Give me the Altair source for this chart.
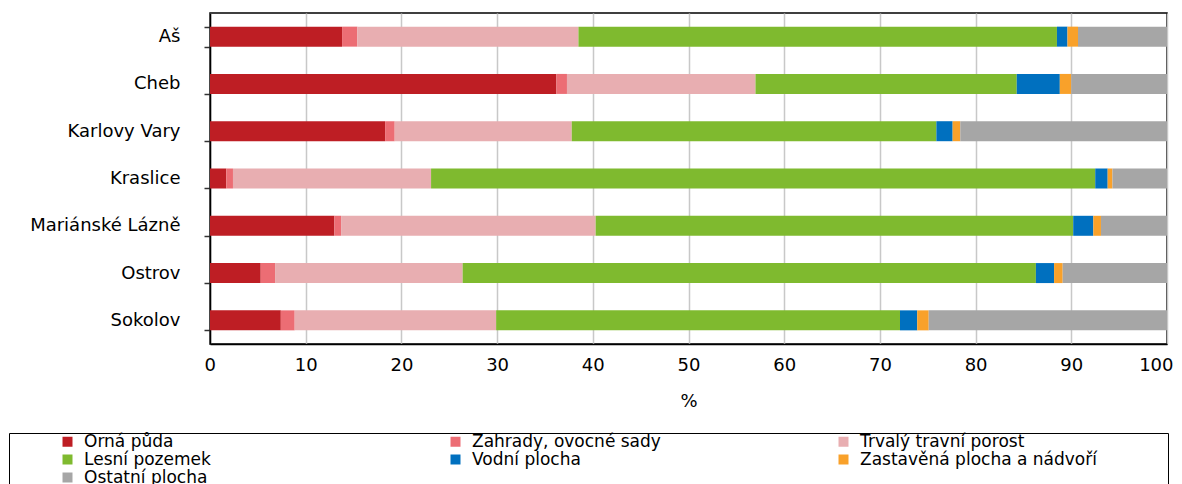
import altair as alt
import pandas as pd

towns = ["Aš", "Cheb", "Karlovy Vary", "Kraslice", "Mariánské Lázně", "Ostrov", "Sokolov"]
categories = ["Orná půda", "Zahrady, ovocné sady", "Trvalý travní porost", "Lesní pozemek",
              "Vodní plocha", "Zastavěná plocha a nádvoří", "Ostatní plocha"]
colors = ["#be1e24", "#ec6d74", "#e8aeb1", "#7fba2f", "#0070bf", "#f9a12a", "#a6a6a6"]

orna = [13.8, 36.2, 18.3, 1.7, 13.0, 5.3, 7.4]
zahrady = [1.6, 1.1, 1.0, 0.7, 0.7, 1.5, 1.45]
trvaly = [23.1, 19.7, 18.5, 20.7, 26.6, 19.6, 21.05]
lesni = [50.0, 27.3, 38.1, 69.4, 49.9, 59.9, 42.2]
vodni = [1.1, 4.5, 1.7, 1.3, 2.1, 1.9, 1.8]
zastavena = [1.1, 1.2, 0.8, 0.5, 0.8, 0.9, 1.2]
ostatni = [9.3, 10.0, 21.6, 5.7, 6.9, 10.9, 24.9]

series = [orna, zahrady, trvaly, lesni, vodni, zastavena, ostatni]
rows = []
for ci, (cat, vals) in enumerate(zip(categories, series)):
    for town, v in zip(towns, vals):
        rows.append({"town": town, "cat": cat, "order": ci, "value": v})
df = pd.DataFrame(rows)

FONT = "DejaVu Sans"

chart = alt.Chart(df).mark_bar(size=20).encode(
    y=alt.Y("town:N", sort=towns, title=None,
            scale=alt.Scale(paddingInner=0.58, paddingOuter=0.29),
            axis=alt.Axis(labelFontSize=18, labelFont=FONT, labelColor="black",
                          domainColor="black", domainWidth=1.5, tickColor="#333",
                          tickWidth=1.5, tickSize=6, tickBand="extent", labelPadding=24,
                          minExtent=201, maxExtent=201, grid=False)),
    x=alt.X("value:Q", stack="zero", title="%",
            scale=alt.Scale(domain=[0, 100], nice=False),
            axis=alt.Axis(values=list(range(0, 101, 10)), labelFontSize=18, labelFont=FONT,
                          labelColor="black", domainColor="black", domainWidth=1.5,
                          labelFlush=True, labelFlushOffset=6,
                          ticks=False, labelPadding=12, gridColor="#c8c8c8", gridWidth=1.5,
                          titleFontSize=18, titleFont=FONT, titleFontWeight="normal",
                          titleColor="black", titlePadding=18)),
    color=alt.Color("cat:N", scale=alt.Scale(domain=categories, range=colors),
                    legend=alt.Legend(title="\u00a0", titleOrient="right", titlePadding=71,
                                      orient="none", legendX=-201, legendY=420,
                                      direction="horizontal", values=categories,
                                      columns=3, gridAlign="all", columnPadding=76,
                                      rowPadding=0, padding=0, symbolOffset=50,
                                      symbolType="square", symbolSize=100,
                                      symbolStrokeWidth=0, labelOffset=8,
                                      labelFontSize=17, labelFont=FONT, labelColor="black",
                                      strokeColor="black", labelLimit=400)),
    order=alt.Order("order:Q"),
).properties(
    width=957, height=331,
    padding={"left": 0, "top": -4, "right": 0, "bottom": 5},
).configure_view(stroke="black", strokeWidth=1.5)

chart.save("out.html", embed_options={"renderer": "svg", "actions": False})
